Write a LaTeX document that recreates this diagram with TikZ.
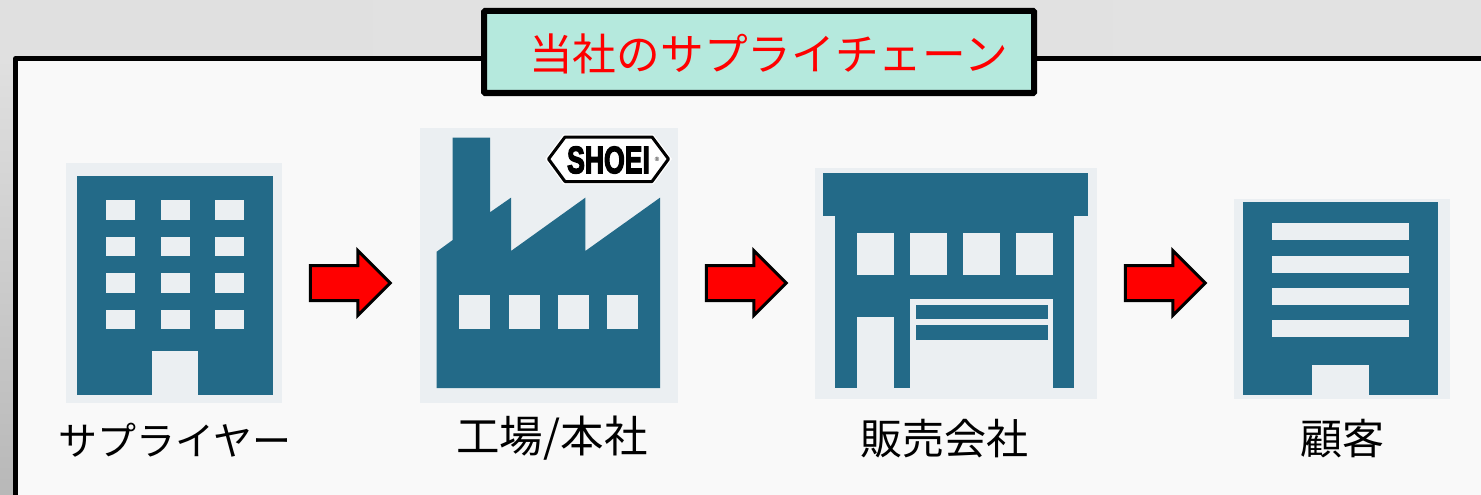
\documentclass[tikz,border=0pt]{standalone}
\usepackage{fontspec}
\usetikzlibrary{shapes.arrows,calc}
\setmainfont{Noto Sans CJK JP}
\newfontfamily\logofont[FakeBold=4]{Liberation Sans Bold}
\newfontfamily\regfont{Liberation Sans}
\definecolor{iconbg}{HTML}{EBEFF2}
\definecolor{icondark}{HTML}{236A88}
\definecolor{panelbg}{HTML}{F9F9F9}
\definecolor{titlebg}{HTML}{B5E9DD}
\definecolor{backa}{HTML}{E0E0E0}
\definecolor{backb}{HTML}{ECECEC}
\definecolor{backe}{HTML}{E2E2E2}
\definecolor{backc}{HTML}{E0E0E0}
\definecolor{backd}{HTML}{B8B8B8}
\tikzset{
  x=1pt,y=-1pt,
  iconback/.style={fill=iconbg,draw=none,inner sep=0pt,outer sep=0pt},
  dark/.style={fill=icondark,draw=none},
  win/.style={fill=iconbg,draw=none},
  caption/.style={inner sep=0pt,outer sep=0pt,text=black,font=\fontsize{39}{44}\selectfont},
  blockarrow/.style={single arrow,draw=black,fill=red,line width=3pt,line join=miter,
    minimum height=80pt,inner xsep=0pt,inner ysep=16pt,text width=0pt,text height=0pt,text depth=0pt,
    single arrow head extend=15pt,single arrow tip angle=90,single arrow head indent=0pt,outer sep=0pt},
}
\begin{document}
\begin{tikzpicture}
\useasboundingbox (0,0) rectangle (1481,495);
% backdrop
\shade[left color=backa,middle color=backb,right color=backe] (0,0) rectangle (1481,58);
\shade[top color=backc,bottom color=backd] (0,58) rectangle (16,495);
% panel
\fill[panelbg] (15.8,58.5) rectangle (1481,495);
\draw[black,line width=5pt,line join=round] (15.8,495) -- (15.8,58.5) -- (1481,58.5);
% title
\node[draw=black,fill=titlebg,line width=6pt,rounded corners=1pt,minimum width=550pt,minimum height=82pt,inner sep=0pt,outer sep=0pt] (title) at (759,52) {};
\node[inner sep=0pt,text=red,font=\fontsize{43.7}{46}\selectfont] (titletext) at (768.5,54) {当社のサプライチェーン};
% supplier
\node[iconback,minimum width=216pt,minimum height=240pt] (supplier) at (174,283) {};
\fill[dark] (77,176) rectangle (272.5,395);
\foreach \xa in {106,160.5,215}
  \foreach \ya in {200,236.5,273,309.5}
    \fill[win] (\xa,\ya) rectangle ++(29,19.5);
\fill[win] (152,351) rectangle (198,395);
% factory
\node[iconback,minimum width=258pt,minimum height=275pt] (factory) at (549,265.5) {};
\fill[dark] (436.7,388) -- (436.7,251.7) -- (452.7,240) -- (452.7,137.7) -- (490,137.7) -- (490,212.3)
  -- (511,197.7) -- (511,251) -- (585.3,197.7) -- (585.3,251) -- (660,197.7) -- (660,388) -- cycle;
\foreach \xa in {459,508.7,558,607}
  \fill[win] (\xa,294.7) rectangle ++(31,34);
% logo
\draw[black,fill=white,line width=3pt,line join=round,preaction={draw=white,line width=5.5pt}]
  (548.5,159) -- (565,137) -- (652,137) -- (668.5,159) -- (652,181.5) -- (565,181.5) -- cycle;
\node[inner sep=0pt,xscale=.7,text=black,font=\logofont\fontsize{38}{38}\selectfont] (logo) at (608.5,160) {SHOEI};
\node[inner sep=0pt,text=black,font=\regfont\fontsize{6}{6}\selectfont] (logoreg) at (657,159) {®};
% store
\node[iconback,minimum width=282pt,minimum height=231pt] (store) at (956,283.5) {};
\fill[dark] (822.6,173.3) rectangle (1087.5,215.7);
\fill[dark] (835.4,215) rectangle (1074.3,387.7);
\foreach \xa in {857,910,962.8,1016}
  \fill[win] (\xa,233.3) rectangle ++(37,41.4);
\fill[win] (857,316.7) rectangle (894,388);
\fill[win] (910,298.7) rectangle (1053,388);
\fill[dark] (915.6,304.7) rectangle (1047.8,319.3);
\fill[dark] (915.6,325.3) rectangle (1047.8,340);
% customer
\node[iconback,minimum width=215.5pt,minimum height=199.7pt] (customer) at (1342,298.85) {};
\fill[dark] (1243,202) rectangle (1437.9,395);
\foreach \ya in {223.3,255.7,288,320.3}
  \fill[win] (1271.7,\ya) rectangle (1409,\ya+17);
\fill[win] (1311.8,365.3) rectangle (1368.7,395);
% arrows
\node[blockarrow] (arrowa) at (341.5,283) {};
\node[blockarrow] (arrowb) at (737.5,283) {};
\node[blockarrow] (arrowc) at (1156.5,283) {};
% captions
\node[caption] (capa) at (175,440) {サプライヤー};
\node[caption,font=\fontsize{43.5}{46}\selectfont] (capb) at (552,438) {工場/本社};
\node[caption,font=\fontsize{42}{44}\selectfont] (capc) at (944,439) {販売会社};
\node[caption,font=\fontsize{42}{44}\selectfont] (capd) at (1342,439) {顧客};
\end{tikzpicture}
\end{document}
